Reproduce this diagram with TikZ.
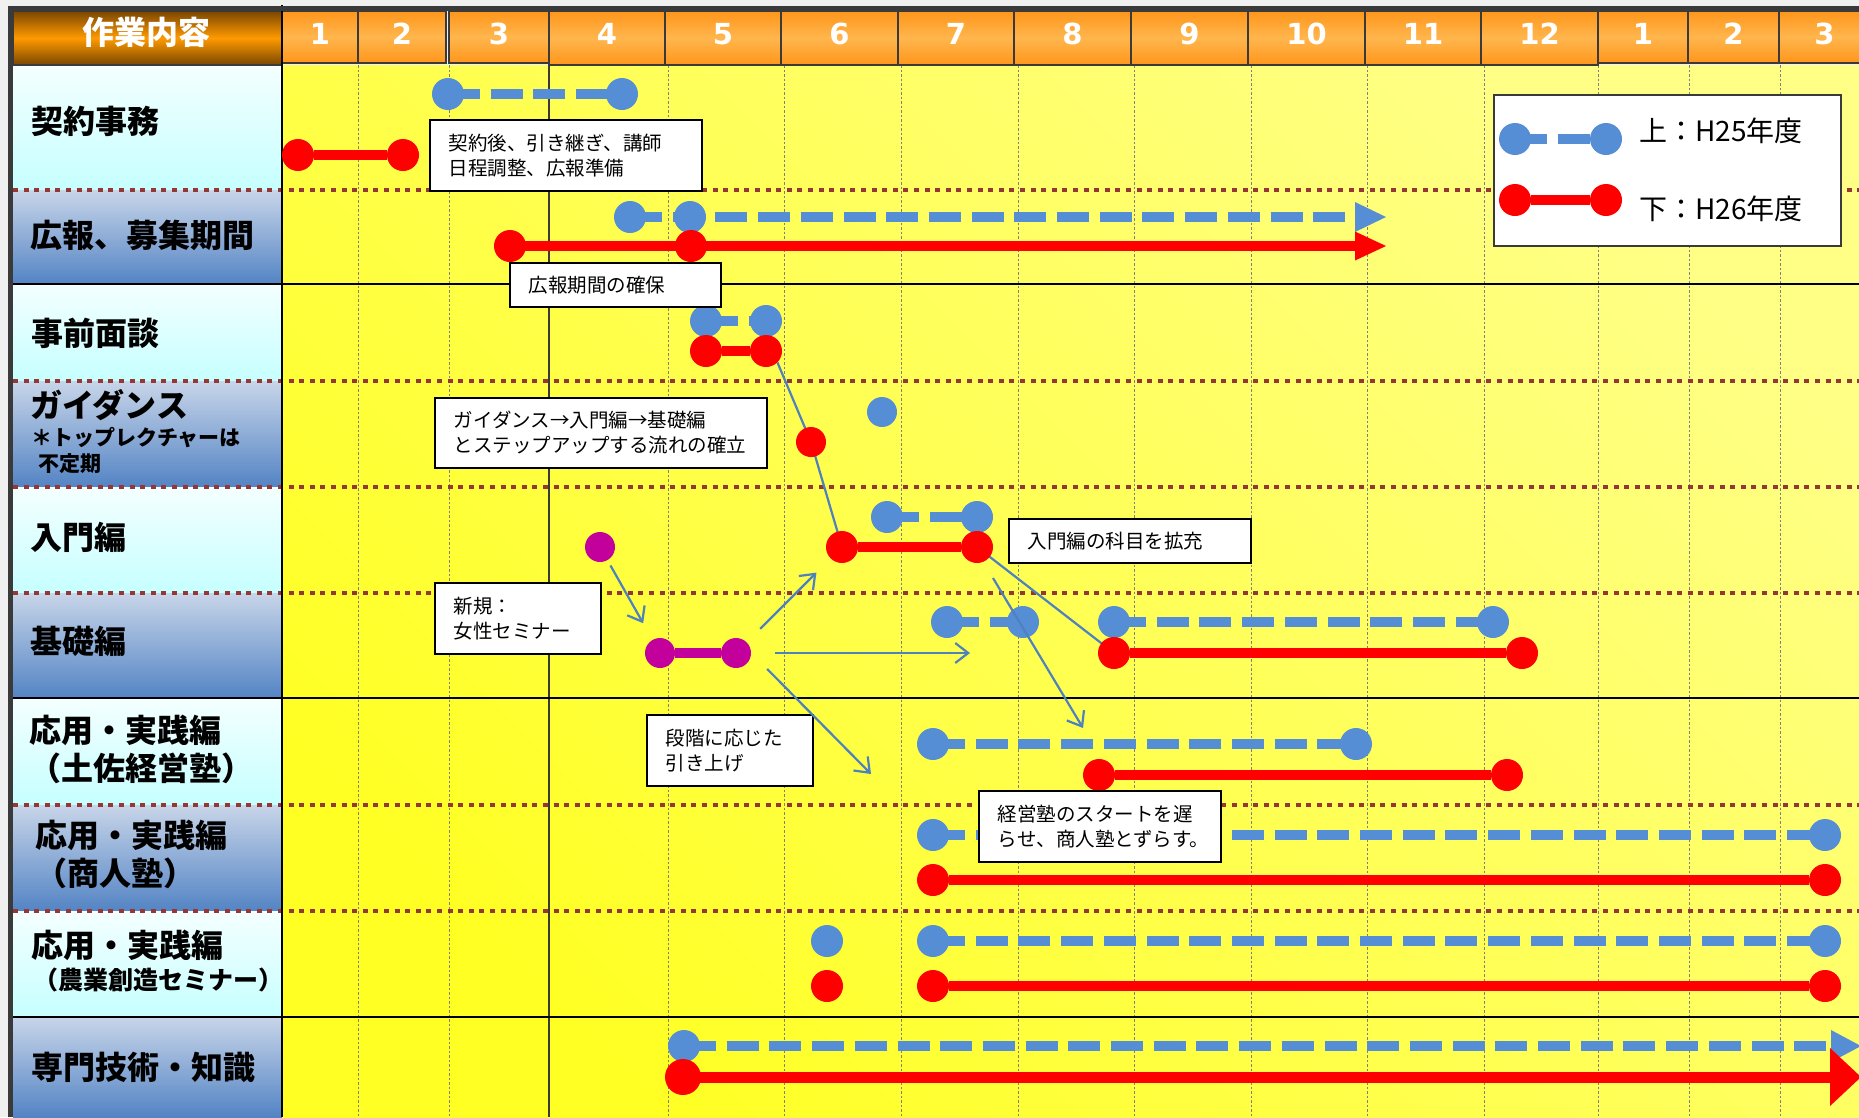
\documentclass[tikz,border=0pt]{standalone}
\usepackage{fontspec}
\setmainfont{Noto Sans CJK JP}
\newfontfamily\numfont{DejaVu Sans}
\usepackage{tikz}
\usetikzlibrary{arrows.meta,positioning,calc}
\definecolor{barblue}{HTML}{558ED5}
\definecolor{barred}{HTML}{FF0000}
\definecolor{barmag}{HTML}{C4009C}
\definecolor{linkblue}{HTML}{4F81BD}
\definecolor{seprd}{HTML}{953735}
\definecolor{hdorange}{HTML}{FF961A}
\definecolor{hdlight}{HTML}{FFB64E}
\definecolor{hdbrown}{HTML}{7A4600}
\definecolor{hdmid}{HTML}{FF9A00}
\definecolor{cyantop}{HTML}{F4FFFF}
\definecolor{cyanbot}{HTML}{C6FFFF}
\definecolor{bluetop}{HTML}{C8D5E9}
\definecolor{bluebot}{HTML}{5384C4}
\definecolor{framegray}{HTML}{3A3A3A}
\definecolor{pagegray}{HTML}{F0F0F0}
\definecolor{chartur}{HTML}{FFFF85}
\definecolor{chartll}{HTML}{FFFF24}
\newcommand\labsize{\fontsize{32}{38}\selectfont}
\newcommand\subsize{\fontsize{21}{26}\selectfont}
\newcommand\notesize{\fontsize{19.5}{25}\selectfont}
\pgfdeclarelayer{chart}
\pgfsetlayers{chart,main}
\begin{document}
\begin{tikzpicture}[x=1pt,y=-1pt,
  bdot/.style={circle,fill=barblue,inner sep=0pt,minimum size=32pt},
  rdot/.style={circle,fill=barred,inner sep=0pt,minimum size=32pt},
  mdot/.style={circle,fill=barmag,inner sep=0pt,minimum size=30pt},
  bbar/.style={draw=barblue,line width=10pt,dash pattern=on 32pt off 10.7pt},
  rbar/.style={draw=barred,line width=10pt},
  mbar/.style={draw=barmag,line width=10pt},
  rowsep/.style={draw=seprd,line width=4.5pt,dash pattern=on 5pt off 5.6pt},
  rowrule/.style={draw=black,line width=2pt},
  monthgrid/.style={draw=gray,line width=1pt,dash pattern=on 2.5pt off 2pt},
  monthcell/.style={draw=framegray,line width=1.6pt,top color=hdorange,bottom color=hdorange,middle color=hdlight},
  monthnum/.style={text=white,font=\numfont\bfseries\fontsize{29}{34}\selectfont,inner sep=0pt},
  rowlab/.style={anchor=west,inner sep=0pt,align=left,font=\labsize\bfseries},
  notebox/.style={draw=black,line width=1.8pt,fill=white,anchor=north west,align=left,inner xsep=19pt,inner ysep=0pt,font=\notesize},
  linkline/.style={draw=linkblue,line width=2.2pt},
  linkarr/.style={linkline,-{Straight Barb[length=13pt,width=20pt]}}
]
\useasboundingbox (0,0) rectangle (1859,1117);

\begin{pgfonlayer}{chart}
\fill[pagegray] (0,0) rectangle (1859,1117);
% label column
\foreach \ya/\yb/\lc in {65/190/cyan,190/284/blue,284/381/cyan,381/487/blue,487/593/cyan,593/698/blue,698/805/cyan,805/911/blue,911/1017/cyan,1017/1117/blue}
  \shade[top color=\lc top,bottom color=\lc bot] (13,\ya) rectangle (282,\yb);
% chart area
\shade[top color=chartur,bottom color=chartll,shading angle=-45] (282,65) rectangle (1859,1117);
\foreach \x in {358,449,668,784,901,1018,1134,1251,1367,1484,1598,1689,1780}
  \draw[monthgrid] (\x,65) -- (\x,1117);
\draw[framegray,line width=2.5pt] (549,65) -- (549,1117);
\foreach \y in {190,381,487,593,805,911}
  \draw[rowsep] (13,\y) -- (1859,\y);
\foreach \y in {284,698,1017}
  \draw[rowrule] (11,\y) -- (1859,\y);
% header
\draw[draw=framegray,line width=1.6pt,top color=hdbrown,bottom color=hdbrown,middle color=hdmid] (13,11) rectangle (282,65);
\node[text=white,font=\labsize\bfseries,inner sep=0pt] (hdr) at (146,32) {作業内容};
\foreach \xa/\xb/\yb/\m [count=\i] in {282/358/63/1,358/446/63/2,449/549/63/3,549/665/65/4,665/781/65/5,781/898/65/6,898/1014/65/7,1014/1131/65/8,1131/1248/65/9,1248/1365/65/10,1365/1481/65/11,1481/1598/65/12,1598/1688/63/1,1688/1779/63/2,1779/1870/63/3}{
  \draw[monthcell] (\xa,11) rectangle (\xb,\yb);
  \node[monthnum] (mon\i) at ({(\xa+\xb)/2},34) {\m};
}
\draw[rowrule] (282,5) -- (282,1117);
\fill[framegray] (8,6) rectangle (1859,11);
\fill[framegray] (8,6) rectangle (13,1117);
\end{pgfonlayer}

% row labels
\node[rowlab] (lab1) at (31,121) {契約事務};
\node[rowlab] (lab2) at (30,235) {広報、募集期間};
\node[rowlab] (lab3) at (31,333) {事前面談};
\node[rowlab] (lab4) at (30,405) {ガイダンス};
\node[rowlab,font=\subsize\bfseries] (lab4a) at (31,438) {＊トップレクチャーは};
\node[rowlab,font=\subsize\bfseries] (lab4b) at (38,464) {不定期};
\node[rowlab] (lab5) at (30,537) {入門編};
\node[rowlab] (lab6) at (30,641) {基礎編};
\node[rowlab] (lab7) at (29,749) {応用・実践編\\（土佐経営塾）};
\node[rowlab] (lab8) at (35,854) {応用・実践編\\（商人塾）};
\node[rowlab] (lab9) at (31,945) {応用・実践編};
\node[rowlab,font=\fontsize{25}{30}\selectfont\bfseries] (lab9a) at (33,980) {（農業創造セミナー）};
\node[rowlab] (lab10) at (31,1067) {専門技術・知識};

% 契約事務
\node[bdot] (kb1) at (448,94) {};
\node[bdot] (kb2) at (622,94) {};
\draw[bbar] (kb1.center) -- (kb2.center);
\node[rdot] (kr1) at (298,155) {};
\node[rdot] (kr2) at (403,155) {};
\draw[rbar] (kr1) -- (kr2);

% 広報、募集期間
\node[bdot] (pb1) at (630,217) {};
\node[bdot] (pb2) at (690,217) {};
\coordinate (pbend) at (1386,217);
\draw[bbar,-{Triangle[length=31pt,width=30pt,line width=0pt]}] (pb1.center) -- (pbend);
\node[rdot] (pr1) at (510,246) {};
\node[rdot] (pr2) at (691,246) {};
\coordinate (prend) at (1386,246);
\draw[rbar,-{Triangle[length=31pt,width=29pt,line width=0pt]}] (pr1.center) -- (prend);

% 事前面談
\node[bdot] (jb1) at (706,321) {};
\node[bdot] (jb2) at (766,321) {};
\draw[bbar] (jb1.center) -- (jb2.center);
\node[rdot] (jr1) at (706,351) {};
\node[rdot] (jr2) at (766,351) {};
\draw[rbar] (jr1) -- (jr2);

% ガイダンス
\node[bdot,minimum size=30pt] (gb) at (882,412) {};
\node[rdot,minimum size=30pt] (gr) at (811,442) {};

% 入門編
\node[bdot] (nb1) at (887,517) {};
\node[bdot] (nb2) at (977,517) {};
\draw[bbar] (nb1.center) -- (nb2.center);
\node[rdot] (nr1) at (842,547) {};
\node[rdot] (nr2) at (977,547) {};
\draw[rbar] (nr1) -- (nr2);
\node[mdot] (nm) at (600,547) {};

% 基礎編
\node[bdot] (kkb1) at (947,622) {};
\node[bdot] (kkb2) at (1023,622) {};
\draw[bbar] (kkb1.center) -- (kkb2.center);
\node[bdot] (kkb3) at (1114,622) {};
\node[bdot] (kkb4) at (1493,622) {};
\draw[bbar] (kkb3.center) -- (kkb4.center);
\node[rdot] (kkr1) at (1114,653) {};
\node[rdot] (kkr2) at (1522,653) {};
\draw[rbar] (kkr1) -- (kkr2);
\node[mdot] (km1) at (660,653) {};
\node[mdot] (km2) at (736,653) {};
\draw[mbar] (km1) -- (km2);

% 応用・実践編（土佐経営塾）
\node[bdot] (tb1) at (933,744) {};
\node[bdot] (tb2) at (1356,744) {};
\draw[bbar] (tb1.center) -- (tb2.center);
\node[rdot] (tr1) at (1099,775) {};
\node[rdot] (tr2) at (1507,775) {};
\draw[rbar] (tr1) -- (tr2);

% 応用・実践編（商人塾）
\node[bdot] (sb1) at (933,835) {};
\node[bdot] (sb2) at (1825,835) {};
\draw[bbar] (sb1.center) -- (sb2.center);
\node[rdot] (sr1) at (933,880) {};
\node[rdot] (sr2) at (1825,880) {};
\draw[rbar] (sr1) -- (sr2);

% 応用・実践編（農業創造セミナー）
\node[bdot] (nob) at (827,941) {};
\node[rdot] (nor) at (827,986) {};
\node[bdot] (nob1) at (933,941) {};
\node[bdot] (nob2) at (1825,941) {};
\draw[bbar] (nob1.center) -- (nob2.center);
\node[rdot] (nor1) at (933,986) {};
\node[rdot] (nor2) at (1825,986) {};
\draw[rbar] (nor1) -- (nor2);

% 専門技術・知識
\node[bdot] (snb) at (684,1046) {};
\coordinate (snbend) at (1861,1046);
\draw[bbar,-{Triangle[length=30pt,width=32pt,line width=0pt]}] (snb.center) -- (snbend);
\node[rdot,minimum size=36pt] (snr) at (683,1077) {};
\coordinate (snrend) at (1861,1077);
\draw[rbar,line width=11pt,-{Triangle[length=31pt,width=58pt,line width=0pt]}] (snr.center) -- (snrend);

% notes
\node[notebox,text width=234pt,minimum height=71pt] (note1) at (429,119) {契約後、引き継ぎ、講師\\日程調整、広報準備};
\node[notebox,text width=173pt,minimum height=44pt] (note2) at (509,262) {広報期間の確保};
\node[notebox,text width=294pt,minimum height=70pt] (note3) at (434,397) {ガイダンス→入門編→基礎編\\とステップアップする流れの確立};
\node[notebox,text width=204pt,minimum height=44pt] (note4) at (1008,518) {入門編の科目を拡充};
\node[notebox,text width=128pt,minimum height=71pt] (note5) at (434,582) {新規：\\女性セミナー};
\node[notebox,text width=128pt,minimum height=71pt] (note6) at (646,714) {段階に応じた\\引き上げ};
\node[notebox,text width=204pt,minimum height=71pt] (note7) at (978,790) {経営塾のスタートを遅\\らせ、商人塾とずらす。};

% links
\begin{pgfonlayer}{chart}
\draw[linkline] (jr2.south east) -- (gr.center) -- (nr1.center);
\draw[linkline] (nr2.center) -- (kkr1.center);
\end{pgfonlayer}
\coordinate (c3s) at (993,578);
\coordinate (c3e) at (1083,728);
\draw[linkarr] (c3s) -- (c3e);
\draw[linkarr,shorten <=6pt,shorten >=19pt] (nm) -- (km1);
\draw[linkarr,shorten <=19pt,shorten >=20pt] (km2) -- (nr1);
\coordinate (c6e) at (970,653);
\draw[linkarr] ($(km2.east)+(24,0)$) -- (c6e);
\coordinate (c7e) at (871,774);
\draw[linkarr] ($(km2.east)+(16,16)$) -- (c7e);

% legend
\node[draw=framegray,line width=1.5pt,fill=white,minimum width=347pt,minimum height=151pt,anchor=north west,inner sep=0pt] (legend) at (1493,94) {};
\node[bdot] (lgb1) at (1515,139) {};
\node[bdot] (lgb2) at (1606,139) {};
\draw[bbar] (lgb1.center) -- (lgb2.center);
\node[rdot] (lgr1) at (1515,200) {};
\node[rdot] (lgr2) at (1606,200) {};
\draw[rbar] (lgr1) -- (lgr2);
\node[anchor=west,inner sep=0pt,font=\fontsize{28}{32}\selectfont] (lgt1) at (1639,131) {上：H25年度};
\node[anchor=west,inner sep=0pt,font=\fontsize{28}{32}\selectfont] (lgt2) at (1639,209) {下：H26年度};
\end{tikzpicture}
\end{document}
